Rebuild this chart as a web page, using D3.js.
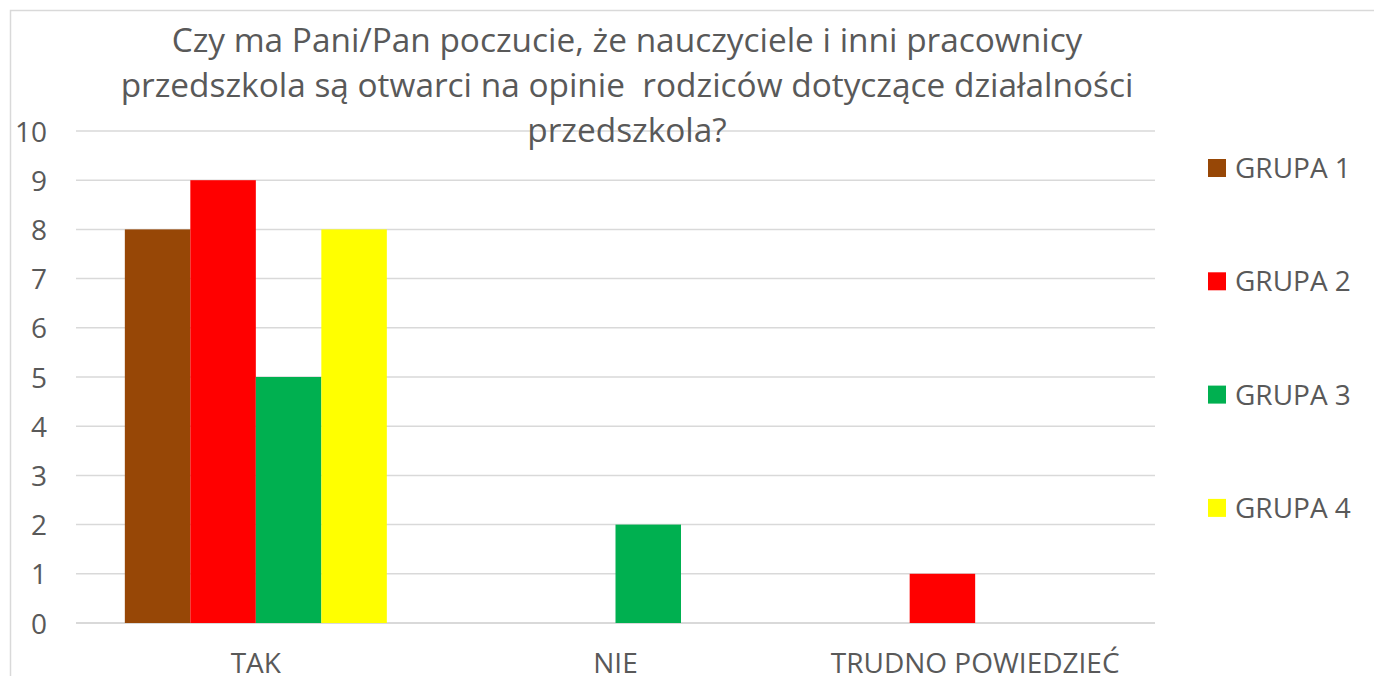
<!DOCTYPE html>
<html>
<head>
<meta charset="utf-8">
<script src="https://cdn.jsdelivr.net/npm/d3@7"></script>
<style>
  body { margin: 0; background: #fff; }
  svg text { font-family: "Open Sans", "Noto Sans", sans-serif; fill: #595959; }
</style>
</head>
<body>
<div id="container"></div>
<script>
var w = 1374;
var h = 676;

// data
var categories = ["TAK", "NIE", "TRUDNO POWIEDZIEĆ"];
var groups = ["GRUPA 1", "GRUPA 2", "GRUPA 3", "GRUPA 4"];
var grupa1 = [8, 0, 0];
var grupa2 = [9, 0, 1];
var grupa3 = [5, 2, 0];
var grupa4 = [8, 0, 0];
var colors = ["#974706", "#ff0000", "#00b050", "#ffff00"];
var yTicks = [0, 1, 2, 3, 4, 5, 6, 7, 8, 9, 10];
var titleLines = [
  "Czy ma Pani/Pan poczucie, że nauczyciele i inni pracownicy",
  "przedszkola są otwarci na opinie  rodziców dotyczące działalności",
  "przedszkola?"
];

var series = [grupa1, grupa2, grupa3, grupa4];

var svg = d3.select("div#container")
    .append("svg")
    .attr("width", w)
    .attr("height", h);

// chart border
svg.append("rect")
    .attr("x", 10.5).attr("y", 10.5)
    .attr("width", w + 20).attr("height", h + 20)
    .attr("fill", "none")
    .attr("stroke", "#d9d9d9")
    .attr("stroke-width", 1.5);

var plot = {left: 76, right: 1155, top: 131, bottom: 623};

var x = d3.scaleBand().domain(categories).range([plot.left, plot.right]).paddingInner(0).paddingOuter(0);
var inner = 65.5 * 4;
var xs = d3.scaleBand().domain(groups).range([0, inner]);
var y = d3.scaleLinear().domain([0, 10]).range([plot.bottom, plot.top]);

// gridlines
svg.append("g")
  .selectAll("line")
  .data(yTicks)
  .enter()
    .append("line")
    .attr("x1", plot.left).attr("x2", plot.right)
    .attr("y1", d => y(d)).attr("y2", d => y(d))
    .attr("stroke", "#d9d9d9")
    .attr("stroke-width", d => d === 0 ? 2 : 1.5);

// y tick labels
var yAxis = d3.axisLeft(y).tickValues(yTicks).tickSize(0).tickPadding(0);
var ya = svg.append("g")
    .attr("transform", "translate(47,0)")
    .call(yAxis);
ya.select(".domain").remove();
ya.selectAll("text")
    .style("font-size", "28px")
    .attr("fill", "#595959")
    .attr("dy", "0.36em");

// bars
series.forEach(function(vals, i) {
  svg.append("g")
      .attr("fill", colors[i])
    .selectAll("rect")
    .data(vals.map((v, j) => ({cat: categories[j], v: v})))
    .enter()
      .filter(d => d.v > 0)
      .append("rect")
      .attr("x", d => x(d.cat) + (x.bandwidth() - inner) / 2 + xs(groups[i]))
      .attr("y", d => y(d.v))
      .attr("width", xs.bandwidth())
      .attr("height", d => y(0) - y(d.v));
});

// x labels
var xAxis = d3.axisBottom(x).tickSize(0).tickPadding(0);
var xa = svg.append("g")
    .attr("transform", "translate(0," + plot.bottom + ")")
    .call(xAxis);
xa.select(".domain").remove();
xa.selectAll("text")
    .style("font-size", "28px")
    .attr("fill", "#595959")
    .attr("y", 50)
    .attr("dy", "0");

// title
svg.append("g")
  .selectAll("text")
  .data(titleLines)
  .enter()
    .append("text")
    .attr("x", 627)
    .attr("y", (d, i) => 52 + i * 45)
    .attr("text-anchor", "middle")
    .style("font-size", "33.4px")
    .style("white-space", "pre")
    .text(d => d);

// legend
var legend = svg.append("g")
  .selectAll("g")
  .data(groups)
  .enter()
    .append("g")
    .attr("transform", (d, i) => "translate(1208," + (168 + i * 113.3) + ")");
legend.append("rect")
    .attr("x", 0).attr("y", -9)
    .attr("width", 18).attr("height", 18)
    .attr("fill", (d, i) => colors[i]);
legend.append("text")
    .attr("x", 27)
    .attr("dy", "0.36em")
    .style("font-size", "28px")
    .text(d => d);
</script>
</body>
</html>
